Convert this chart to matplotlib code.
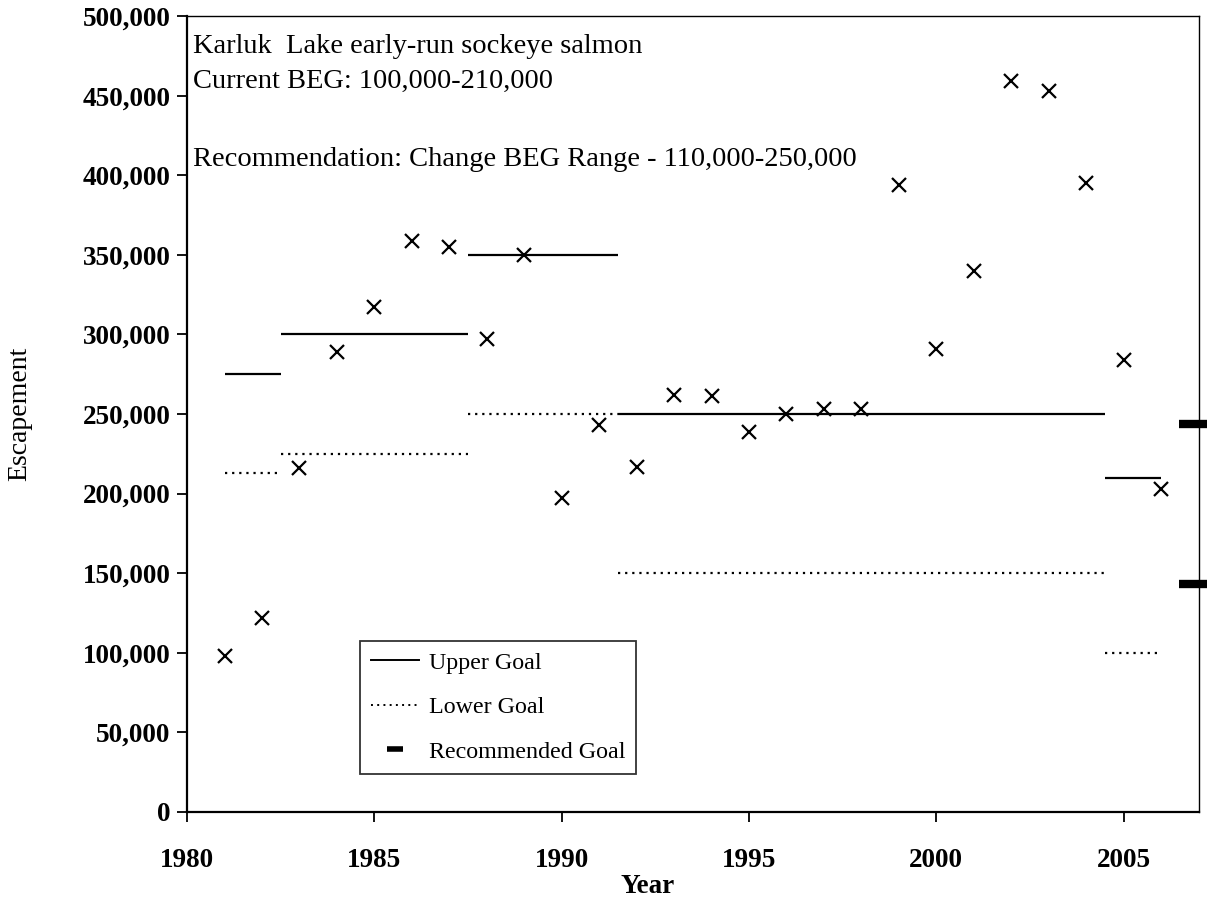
import matplotlib
matplotlib.use("Agg")
from matplotlib import pyplot as plt
from matplotlib.lines import Line2D
from matplotlib.ticker import FuncFormatter

# escapement by year
years = list(range(1981, 2007))
escapement = [98000, 122000, 216000, 289000, 317000, 359000, 355000, 297000,
              350000, 197000, 243000, 217000, 262000, 261000, 239000, 250000,
              253000, 253000, 394000, 291000, 340000, 459000, 453000, 395000,
              284000, 203000]

# goal ranges: (start, end) and the goal level for each period
goal_periods = [(1981, 1982.5), (1982.5, 1987.5), (1987.5, 1991.5),
                (1991.5, 2004.5), (2004.5, 2006)]
upper_goal = [275000, 300000, 350000, 250000, 210000]
lower_goal = [213000, 225000, 250000, 150000, 100000]

# recommended goal marks at right edge
rec_x = [2007, 2007]
rec_goal = [244000, 143000]

notes = ["Karluk  Lake early-run sockeye salmon",
         "Current BEG: 100,000-210,000",
         "Recommendation: Change BEG Range - 110,000-250,000"]
note_y = [481000, 459000, 410000]

plt.rcParams["font.family"] = ["Liberation Serif", "DejaVu Serif"]

fig = plt.figure(figsize=(12.07, 9.0), dpi=100)
ax = fig.add_axes([0.155, 0.098, 0.838, 0.884])

for (x0, x1), up, lo in zip(goal_periods, upper_goal, lower_goal):
    ax.plot([x0, x1], [up, up], color="black", lw=1.6, solid_capstyle="butt")
    ax.plot([x0, x1], [lo, lo], color="black", lw=1.6, linestyle=(0, (1, 2.2)))

ax.plot(years, escapement, linestyle="none", marker="x", color="black",
        markersize=10, markeredgewidth=1.6)

ax.plot(rec_x, rec_goal, linestyle="none", marker="_", color="black",
        markersize=29, markeredgewidth=6, clip_on=False, zorder=5)

for txt, yv in zip(notes, note_y):
    ax.text(1980.15, yv, txt, fontsize=20.5, va="center", ha="left")

ax.set_xlim(1980, 2007)
ax.set_ylim(0, 500000)
ax.set_xticks([1980, 1985, 1990, 1995, 2000, 2005])
ax.set_yticks(range(0, 500001, 50000))
ax.yaxis.set_major_formatter(FuncFormatter(lambda v, p: f"{int(v):,}"))

ax.tick_params(axis="both", direction="out", length=7, width=1.3,
               labelsize=19.5)
ax.tick_params(axis="x", pad=19)
ax.tick_params(axis="y", pad=5)
for lab in ax.get_xticklabels() + ax.get_yticklabels():
    lab.set_fontweight("bold")

for side in ["left", "bottom"]:
    ax.spines[side].set_linewidth(1.6)
for side in ["top", "right"]:
    ax.spines[side].set_linewidth(1.0)

ax.set_ylabel("Escapement", fontsize=20)
ax.yaxis.set_label_coords(-0.153, 0.5)
ax.set_xlabel("Year", fontsize=19.5, fontweight="bold")
ax.xaxis.set_label_coords(0.455, -0.078)

handles = [
    Line2D([], [], color="black", lw=1.4),
    Line2D([], [], color="black", lw=1.4, linestyle=(0, (1, 2.2))),
    Line2D([], [], color="black", linestyle="none", marker="_",
           markersize=11, markeredgewidth=4),
]
leg = ax.legend(handles, ["Upper Goal", "Lower Goal", "Recommended Goal"],
                loc="lower left", bbox_to_anchor=(0.171, 0.048),
                fontsize=17.3, frameon=True, fancybox=False,
                edgecolor="black", handlelength=2.0, handletextpad=0.4,
                labelspacing=0.95, borderpad=0.45, borderaxespad=0)
leg.get_frame().set_linewidth(1.3)

fig.savefig("out.png", dpi=100)
